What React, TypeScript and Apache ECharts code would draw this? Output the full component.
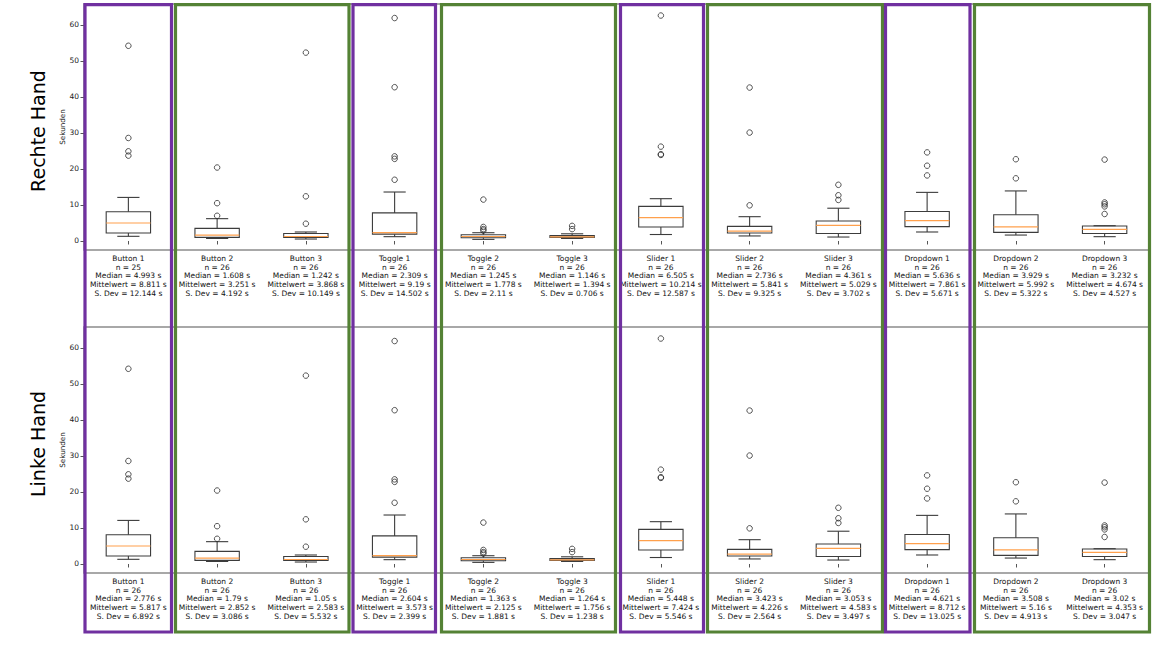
import React, { useEffect, useRef } from "react";
import * as echarts from "echarts";

const categories = [
  "Button 1", "Button 2", "Button 3",
  "Toggle 1", "Toggle 2", "Toggle 3",
  "Slider 1", "Slider 2", "Slider 3",
  "Dropdown 1", "Dropdown 2", "Dropdown 3",
];

// box statistics as drawn (whisker low, Q1, median, Q3, whisker high)
const whiskerLow = [1.3, 0.7, 0.55, 1.2, 0.45, 0.7, 1.8, 1.4, 1.1, 2.5, 1.65, 1.2];
const quartile1 = [2.2, 1.0, 1.0, 1.9, 0.9, 1.0, 3.9, 2.2, 2.1, 4.0, 2.4, 2.1];
const boxMedian = [4.993, 1.608, 1.242, 2.309, 1.245, 1.146, 6.505, 2.736, 4.361, 5.636, 3.929, 3.232];
const quartile3 = [8.1, 3.5, 2.1, 7.8, 1.75, 1.5, 9.6, 4.05, 5.55, 8.2, 7.3, 4.15];
const whiskerHigh = [12.1, 6.2, 2.5, 13.6, 2.3, 2.0, 11.75, 6.75, 9.1, 13.5, 13.9, 4.25];
const outliers = [
  [54.2, 28.6, 24.9, 23.7],
  [20.4, 10.5, 7.0],
  [52.3, 12.4, 4.8],
  [61.9, 42.7, 23.5, 22.8, 17.0],
  [11.5, 3.9, 3.3, 2.9],
  [4.2, 3.3],
  [62.6, 26.2, 24.1, 23.9],
  [42.6, 30.1, 9.9],
  [15.6, 12.7, 11.4],
  [24.6, 20.9, 18.2],
  [22.7, 17.4],
  [22.6, 10.7, 10.2, 9.6, 7.5],
];

// label statistics – right hand
const rightN = [25, 26, 26, 26, 26, 26, 26, 26, 26, 26, 26, 26];
const rightMedian = [4.993, 1.608, 1.242, 2.309, 1.245, 1.146, 6.505, 2.736, 4.361, 5.636, 3.929, 3.232];
const rightMean = [8.811, 3.251, 3.868, 9.19, 1.778, 1.394, 10.214, 5.841, 5.029, 7.861, 5.992, 4.674];
const rightSd = [12.144, 4.192, 10.149, 14.502, 2.11, 0.706, 12.587, 9.325, 3.702, 5.671, 5.322, 4.527];

// label statistics – left hand
const leftN = [26, 26, 26, 26, 26, 26, 26, 26, 26, 26, 26, 26];
const leftMedian = [2.776, 1.79, 1.05, 2.604, 1.363, 1.264, 5.448, 3.423, 3.053, 4.621, 3.508, 3.02];
const leftMean = [5.817, 2.852, 2.583, 3.573, 2.125, 1.756, 7.424, 4.226, 4.583, 8.712, 5.16, 4.353];
const leftSd = [6.892, 3.086, 5.532, 2.399, 1.881, 1.238, 5.546, 2.564, 3.497, 13.025, 4.913, 3.047];

const yTicks = [0, 10, 20, 30, 40, 50, 60];
const rowTitles = ["Rechte Hand", "Linke Hand"];
const yAxisTitle = "Sekunden";

const FONT = "DejaVu Sans";
const PURPLE = "#7030a0";
const GREEN = "#548235";

export default function App() {
  const ref = useRef<HTMLDivElement>(null);

  useEffect(() => {
    if (!ref.current) return;
    const chart = echarts.init(ref.current, null, { renderer: "svg" });

    const boxData = categories.map((_, i) => [
      i, whiskerLow[i], quartile1[i], boxMedian[i], quartile3[i], whiskerHigh[i],
    ]);
    const outlierData: any[] = [];
    outliers.forEach((arr, i) => arr.forEach((v) => outlierData.push([i, v])));

    const makeLabel = (n: number[], med: number[], mean: number[], sd: number[]) =>
      (_v: string, i: number) =>
        `${categories[i]}\nn = ${n[i]}\nMedian = ${med[i]} s\nMittelwert = ${mean[i]} s\nS. Dev = ${sd[i]} s`;

    const labelFns = [
      makeLabel(rightN, rightMedian, rightMean, rightSd),
      makeLabel(leftN, leftMedian, leftMean, leftSd),
    ];

    const renderBox = (params: any, api: any) => {
      const x = api.value(0);
      const lo = api.coord([x, api.value(1)]);
      const q1 = api.coord([x, api.value(2)]);
      const md = api.coord([x, api.value(3)]);
      const q3 = api.coord([x, api.value(4)]);
      const hi = api.coord([x, api.value(5)]);
      const band = api.size([1, 0])[0];
      const bw = band * 0.5;
      const cw = band * 0.25;
      const cx = lo[0];
      const lineStyle = { stroke: "#3c3c3c", lineWidth: 1.1, fill: "none" };
      return {
        type: "group",
        children: [
          { type: "line", shape: { x1: cx, y1: q1[1], x2: cx, y2: lo[1] }, style: lineStyle },
          { type: "line", shape: { x1: cx, y1: q3[1], x2: cx, y2: hi[1] }, style: lineStyle },
          { type: "line", shape: { x1: cx - cw / 2, y1: lo[1], x2: cx + cw / 2, y2: lo[1] }, style: lineStyle },
          { type: "line", shape: { x1: cx - cw / 2, y1: hi[1], x2: cx + cw / 2, y2: hi[1] }, style: lineStyle },
          {
            type: "rect",
            shape: { x: cx - bw / 2, y: q3[1], width: bw, height: q1[1] - q3[1] },
            style: { stroke: "#3c3c3c", lineWidth: 1.1, fill: "none" },
          },
          {
            type: "line",
            shape: { x1: cx - bw / 2, y1: md[1], x2: cx + bw / 2, y2: md[1] },
            style: { stroke: "#ffa04c", lineWidth: 1.2 },
          },
        ],
      };
    };

    const grids = [
      { left: 84, top: 4, width: 1065, height: 246 },
      { left: 84, top: 327, width: 1065, height: 246 },
    ];

    const option: any = {
      animation: false,
      backgroundColor: "#ffffff",
      textStyle: { fontFamily: FONT },
      grid: grids.map((g) => ({
        ...g,
        show: true,
        borderColor: "#8c8c8c",
        borderWidth: 1.4,
        backgroundColor: "transparent",
      })),
      xAxis: [0, 1].map((k) => ({
        type: "category",
        gridIndex: k,
        data: categories,
        axisLine: { show: false },
        axisTick: { show: true, alignWithLabel: true, length: 3.5, lineStyle: { color: "#555", width: 1 } },
        axisLabel: {
          interval: 0,
          margin: 4,
          fontFamily: FONT,
          fontSize: 7.5,
          lineHeight: 8.7,
          color: "#111",
          formatter: labelFns[k],
        },
        splitLine: { show: false },
      })),
      yAxis: [0, 1].map((k) => ({
        type: "value",
        gridIndex: k,
        min: -2.5,
        max: 65.8,
        axisLine: { show: false },
        axisTick: { show: true, length: 3.5, customValues: yTicks, lineStyle: { color: "#555", width: 1 } },
        axisLabel: { fontFamily: FONT, fontSize: 7.5, color: "#222", margin: 5, customValues: yTicks },
        splitLine: { show: false },
        name: yAxisTitle,
        nameLocation: "middle",
        nameGap: 18,
        nameMoveOverlap: false,
        nameRotate: 90,
        nameTextStyle: { fontFamily: FONT, fontSize: 7.2, color: "#222" },
      })),
      series: [
        ...[0, 1].map((k) => ({
          type: "custom",
          xAxisIndex: k,
          yAxisIndex: k,
          renderItem: renderBox,
          encode: { x: 0, y: [1, 2, 3, 4, 5] },
          data: boxData,
          clip: false,
          z: 2,
        })),
        ...[0, 1].map((k) => ({
          type: "scatter",
          xAxisIndex: k,
          yAxisIndex: k,
          symbol: "circle",
          symbolSize: 5.5,
          itemStyle: { color: "rgba(255,255,255,0)", borderColor: "#2a2a2a", borderWidth: 1 },
          data: outlierData,
          z: 3,
        })),
      ],
      graphic: [
        ...rowTitles.map((t, k) => ({
          type: "text",
          x: 38,
          y: k === 0 ? 131 : 444,
          rotation: Math.PI / 2,
          style: {
            text: t,
            fontFamily: FONT,
            fontSize: 19,
            fill: "#000",
            align: "center",
            verticalAlign: "middle",
          },
        })),
        ...[
          [85, 171.5, PURPLE],
          [175.5, 349, GREEN],
          [353, 435.5, PURPLE],
          [441.5, 615.5, GREEN],
          [620.5, 703.5, PURPLE],
          [707.5, 882.5, GREEN],
          [885.5, 970, PURPLE],
          [974.5, 1149.5, GREEN],
        ].map(([x1, x2, c]: any) => ({
          type: "rect",
          shape: { x: x1, y: 4.7, width: x2 - x1, height: 627.3 },
          style: { fill: "none", stroke: c, lineWidth: 3.2 },
          z: 100,
        })),
      ],
    };

    chart.setOption(option);
    return () => chart.dispose();
  }, []);

  return (
    <div
      ref={ref}
      style={{ position: "fixed", left: 0, top: 0, width: 1161, height: 652, background: "#fff" }}
    />
  );
}
